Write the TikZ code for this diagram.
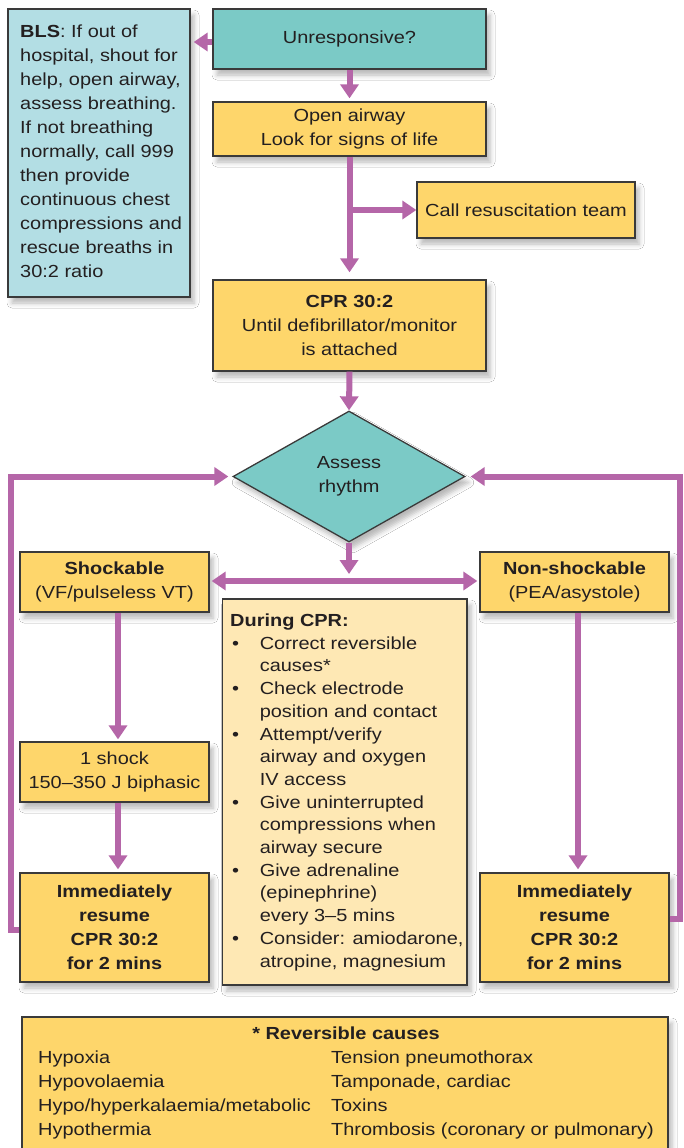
\documentclass[tikz,border=0pt]{standalone}
\usepackage{fontspec}
\setmainfont{Liberation Sans}[FakeStretch=1.14]
\usetikzlibrary{arrows.meta,shapes.geometric,shadows.blur}

\definecolor{edgec}{HTML}{3A3A3A}
\definecolor{tealc}{HTML}{7BCAC6}
\definecolor{blsc}{HTML}{B3DEE4}
\definecolor{yelc}{HTML}{FED66B}
\definecolor{paleyelc}{HTML}{FEE8B4}
\definecolor{purplec}{HTML}{B566A8}
\definecolor{textc}{HTML}{231F20}

\newcommand\bodyfont{\fontsize{17.5}{24}\selectfont}
\newcommand\listfont{\fontsize{17.5}{22.7}\selectfont}
\newcommand\bul{\makebox[29.6pt][l]{\hspace{2pt}\textbullet}}

\begin{document}
\begin{tikzpicture}[x=1pt,y=-1pt,
  every node/.style={text=textc, font=\bodyfont},
  softshadow/.style={blur shadow={shadow xshift=4pt, shadow yshift=-6pt, shadow blur radius=5pt, shadow opacity=28}},
  panel/.style={draw=edgec, line width=1.3pt, inner sep=0pt, align=center, softshadow},
  yellowbox/.style={panel, fill=yelc},
  tealbox/.style={panel, fill=tealc},
  bluebox/.style={panel, fill=blsc},
  palebox/.style={panel, fill=paleyelc},
  plaintext/.style={inner sep=0pt, anchor=base west},
  flowline/.style={draw=purplec, line width=6pt},
  flow/.style={flowline, -{Triangle[width=18pt,length=14pt]}},
  flowboth/.style={flowline, {Triangle[width=18pt,length=14pt]}-{Triangle[width=18pt,length=14pt]}},
]
\useasboundingbox (0,0) rectangle (683,1148);
\fill[white] (0,0) rectangle (683,1148);

% basic life support panel
\node[bluebox, minimum width=182pt, minimum height=288pt] (bls) at (99,153) {};
\node[plaintext] (blstext) at (20,37.3) {\begin{tabular}[t]{@{}l@{}}
\textbf{BLS}: If out of\\
hospital, shout for\\
help, open airway,\\
assess breathing.\\
If not breathing\\
normally, call 999\\
then provide\\
continuous chest\\
compressions and\\
rescue breaths in\\
30:2 ratio
\end{tabular}};

% main column
\node[tealbox, minimum width=273pt, minimum height=60pt] (unresp) at (349.5,39) {Unresponsive?};
\node[yellowbox, minimum width=273pt, minimum height=54pt] (airway) at (349.5,129) {Open airway\\Look for signs of life};
\node[yellowbox, minimum width=218pt, minimum height=56pt] (callteam) at (526,210) {Call resuscitation team};
\node[yellowbox, minimum width=273pt, minimum height=91pt] (cpr) at (349.5,325.5) {\textbf{CPR 30:2}\\Until defibrillator/monitor\\is attached};
\node[diamond, aspect=1.77, minimum width=232pt, minimum height=131pt, draw=edgec, line width=1.3pt,
  fill=tealc, inner sep=0pt, align=center, softshadow] (rhythm) at (349,476.5) {Assess\\rhythm};

% shockable branch
\node[yellowbox, minimum width=189pt, minimum height=60pt] (shock) at (114.5,582) {\textbf{Shockable}\\(VF/pulseless VT)};
\node[yellowbox, minimum width=189pt, minimum height=60pt] (oneshock) at (114.5,772) {1 shock\\150–350 J biphasic};
\node[yellowbox, minimum width=189pt, minimum height=109pt, font=\bodyfont\bfseries] (immL) at (114.5,927.5) {Immediately\\resume\\CPR 30:2\\for 2 mins};

% non-shockable branch
\node[yellowbox, minimum width=189pt, minimum height=60pt] (nonshock) at (574.5,582) {\textbf{Non-shockable}\\(PEA/asystole)};
\node[yellowbox, minimum width=189pt, minimum height=109pt, font=\bodyfont\bfseries] (immR) at (574.5,927.5) {Immediately\\resume\\CPR 30:2\\for 2 mins};

% during CPR panel
\node[palebox, minimum width=244.5pt, minimum height=386pt] (during) at (344.75,792) {};
\node[plaintext, font=\listfont] (duringtext) at (230,626.5) {\begin{tabular}[t]{@{}l@{}l@{}}
\multicolumn{2}{@{}l@{}}{\bfseries During CPR:}\\
\bul & Correct reversible\\
 & causes*\\
\bul & Check electrode\\
 & position and contact\\
\bul & Attempt/verify\\
 & airway and oxygen\\
 & IV access\\
\bul & Give uninterrupted\\
 & compressions when\\
 & airway secure\\
\bul & Give adrenaline\\
 & (epinephrine)\\
 & every 3–5 mins\\
\bul & Consider: amiodarone,\\
 & atropine, magnesium
\end{tabular}};

% reversible causes panel
\node[yellowbox, minimum width=646pt, minimum height=143pt] (causes) at (345,1088.5) {};
\node[plaintext] (causestext) at (38,1039) {\begin{tabular}[t]{@{}p{293pt}@{}l@{}}
\multicolumn{2}{@{}c@{}}{\bfseries * Reversible causes}\\
Hypoxia & Tension pneumothorax\\
Hypovolaemia & Tamponade, cardiac\\
Hypo/hyperkalaemia/metabolic & Toxins\\
Hypothermia & Thrombosis (coronary or pulmonary)
\end{tabular}};

% connectors
\path ([yshift=-3pt]unresp.west) coordinate (u1);
\draw[flow, shorten >=3pt] (u1) -- (u1 -| bls.east);
\draw[flow, shorten >=3pt] (unresp.south) -- (airway.north);
\draw[flow, shorten >=7pt] (airway.south) -- (cpr.north);
\draw[flow] (airway.south |- callteam.west) -- (callteam.west);
\draw[flow] (cpr.south) -- (rhythm.north);
\coordinate (split) at (349,581);
\draw[flow, shorten >=7pt] (rhythm.south) -- (split);
\draw[flowboth, shorten >=2pt, shorten <=2pt] (shock.east |- split) -- (nonshock.west |- split);
\draw[flow, shorten >=2pt] ([xshift=3.5pt]shock.south) -- ([xshift=3.5pt]oneshock.north);
\draw[flow, shorten >=3pt] ([xshift=3.5pt]oneshock.south) -- ([xshift=3.5pt]immL.north);
\draw[flow, shorten >=3pt] ([xshift=3.5pt]nonshock.south) -- ([xshift=3.5pt]immR.north);
\draw[flow, shorten >=4pt] ([yshift=-2.5pt]immL.west) -- ++(-8,0) |- (rhythm.west);
\draw[flow, shorten >=5pt] ([yshift=8.5pt]immR.east) -- ++(10,0) |- (rhythm.east);
\end{tikzpicture}
\end{document}
